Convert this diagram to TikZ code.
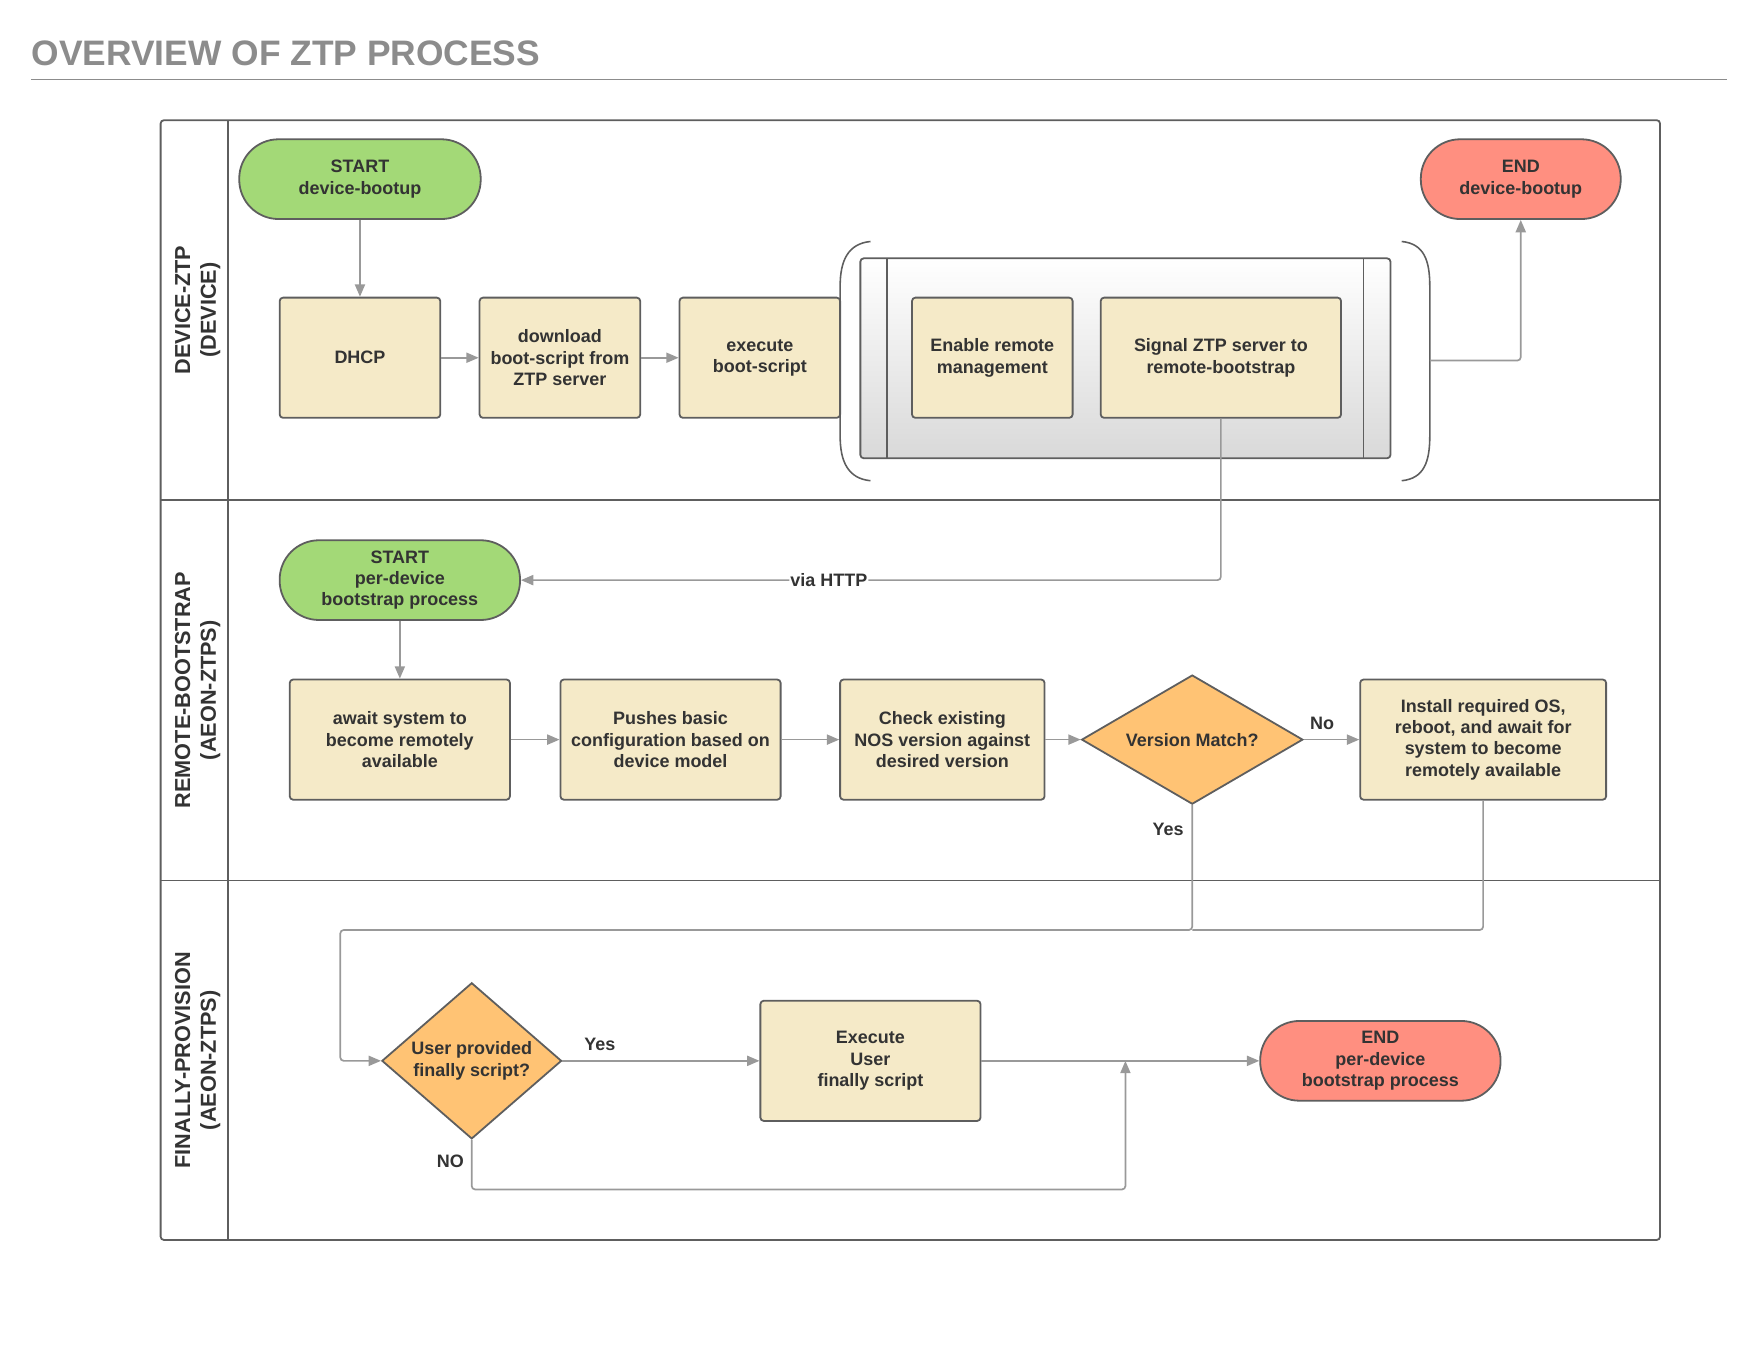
\documentclass[tikz,border=0pt]{standalone}
\usepackage{fontspec}
\setmainfont{Liberation Sans}
\usetikzlibrary{shapes.geometric,arrows.meta}
\definecolor{linegray}{HTML}{5E5E5E}
\definecolor{wiregray}{HTML}{999999}
\definecolor{procfill}{HTML}{F5EAC8}
\definecolor{startfill}{HTML}{A3D977}
\definecolor{endfill}{HTML}{FF8F80}
\definecolor{decfill}{HTML}{FFC374}
\definecolor{titlegray}{HTML}{8C8C8C}
\definecolor{textdark}{HTML}{333333}
\begin{document}
\begin{tikzpicture}[x=1pt,y=-1pt,
	txt/.style={font=\fontsize{16}{19}\selectfont\bfseries,text=textdark,align=center},
	proc/.style={txt,draw=linegray,line width=1.6pt,fill=procfill,rounded corners=3pt,minimum height=107pt,inner sep=2pt},
	term/.style={txt,draw=linegray,line width=1.6pt,rounded corners=35pt,minimum height=71pt,inner sep=2pt},
	dec/.style={txt,draw=linegray,line width=1.6pt,fill=decfill,diamond,inner sep=0pt},
	wire/.style={draw=wiregray,line width=1.5pt,rounded corners=3pt},
	flow/.style={wire,-{Triangle[length=11pt,width=9pt]}},
	lane/.style={font=\fontsize{19.3}{23}\selectfont\bfseries,text=textdark,align=center,rotate=90}]
				\useasboundingbox (0,0) rectangle (1567,1211);

				\node[anchor=base west,font=\fontsize{31.5}{36}\selectfont\bfseries,text=titlegray,inner sep=0pt] (title) at (28,58) {OVERVIEW OF ZTP PROCESS};
				\draw[titlegray,line width=1.2pt] (28,71) -- (1538,71);

				\draw[linegray,line width=1.6pt,rounded corners=3pt] (143,107) rectangle (1478,1104);
				\draw[linegray,line width=1.6pt] (203,107) -- (203,1104) (143,445) -- (1478,445) (143,784) -- (1478,784);
				\node[lane] (lanedev) at (176,276) {DEVICE-ZTP\\(DEVICE)};
				\node[lane] (laneboot) at (176,614.5) {REMOTE-BOOTSTRAP\\(AEON-ZTPS)};
				\node[lane] (laneprov) at (176,944) {FINALLY-PROVISION\\(AEON-ZTPS)};

				\draw[draw=linegray,line width=1.6pt,rounded corners=3pt,top color=white,bottom color=black!15] (766,230) rectangle (1238,408);
				\draw[linegray,line width=1.6pt] (790,230) -- (790,408) (1214,230) -- (1214,408);
				\draw[linegray,line width=1.4pt] (775,215) .. controls (755,217) and (748,232) .. (748,255) -- (748,388) .. controls (748,411) and (755,426) .. (775,428);
				\draw[linegray,line width=1.4pt] (1248,215) .. controls (1268,217) and (1273,232) .. (1273,255) -- (1273,388) .. controls (1273,411) and (1268,426) .. (1248,428);
				\coordinate (brkout) at (1273,321);

				\node[term,fill=startfill,minimum width=215pt] (startdev) at (320.5,159.5) {START\\device-bootup};
				\node[term,fill=endfill,minimum width=178pt] (enddev) at (1354,159.5) {END\\device-bootup};
				\node[proc,minimum width=143pt] (dhcp) at (320.5,318.5) {DHCP};
				\node[proc,minimum width=143pt] (download) at (498.5,318.5) {download\\boot-script from\\ZTP server};
				\node[proc,minimum width=143pt] (execute) at (676.5,318.5) {execute\\boot-script};
				\node[proc,minimum width=143pt] (enable) at (883.5,318.5) {Enable remote\\management};
				\node[proc,minimum width=214pt] (signal) at (1087,318.5) {Signal ZTP server to\\remote-bootstrap};

				\node[term,fill=startfill,minimum width=214pt] (startpd) at (356,516.5) {START\\per-device\\bootstrap process};
				\node[proc,minimum width=196pt] (await) at (356,658.5) {await system to\\become remotely\\available};
				\node[proc,minimum width=196pt] (pushes) at (597,658.5) {Pushes basic\\configuration based on\\device model};
				\node[proc,minimum width=182pt] (check) at (839,658.5) {Check existing\\NOS version against\\desired version};
				\node[dec,minimum width=197pt,minimum height=115pt,shape aspect=1.71] (vmatch) at (1061.5,658.5) {Version Match?};
				\node[proc,minimum width=219pt] (install) at (1320.5,658.5) {Install required OS,\\reboot, and await for\\system to become\\remotely available};

				\node[dec,minimum width=160pt,minimum height=139pt,shape aspect=1.15] (userfin) at (420,944.5) {User provided\\finally script?};
				\node[proc,minimum width=196pt] (exec) at (775,944.5) {Execute\\User\\finally script};
				\node[term,fill=endfill,minimum width=214pt] (endpd) at (1229,944.5) {END\\per-device\\bootstrap process};

				\draw[flow] (startdev) -- (dhcp);
				\draw[flow] (dhcp) -- (download);
				\draw[flow] (download) -- (execute);
				\draw[flow] (brkout) -| (enddev);
				\draw[flow] (signal.south) |- (startpd.east) node[pos=0.78,fill=white,inner sep=1pt,txt] (http) {via HTTP};

				\draw[flow] (startpd) -- (await);
				\draw[flow] (await) -- (pushes);
				\draw[flow] (pushes) -- (check);
				\draw[flow] (check) -- (vmatch);
				\draw[flow] (vmatch) -- (install) node[pos=0.33,above=5pt,txt] (nolabel) {No};

				\coordinate (joinyes) at (1061.5,828);
				\coordinate (joinleft) at (303,828);
				\draw[wire] (install.south) |- (joinyes);
				\draw[flow] (vmatch.south) -- (joinyes) -- (joinleft) |- (userfin.west);
				\node[txt] (yeslabel) at (1040,738) {Yes};

				\coordinate (merge) at (1002,944.5);
				\coordinate (nobottom) at (1002,1059);
				\draw[flow] (userfin) -- (exec) node[pos=0.19,above=5pt,txt] (yesfin) {Yes};
				\draw[flow] (exec) -- (endpd);
				\draw[flow] (userfin.south) |- (nobottom) -- (merge);
				\node[txt] (nofin) at (401,1034) {NO};

		\end{tikzpicture}
\end{document}
